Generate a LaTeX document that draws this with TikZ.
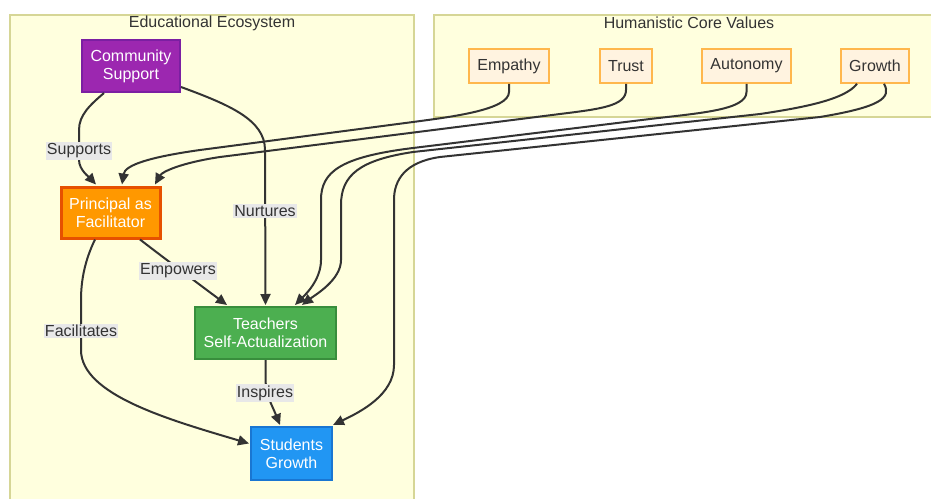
\documentclass[tikz,border=0pt]{standalone}
\usepackage{fontspec}
\setmainfont{Liberation Sans}
\usetikzlibrary{arrows.meta,calc}
\definecolor{clfill}{HTML}{FFFFDE}
\definecolor{clline}{RGB}{214,214,150}
\definecolor{ink}{HTML}{333333}
\definecolor{lblbg}{HTML}{E8E8E8}
\definecolor{purf}{HTML}{9C27B0}\definecolor{purd}{HTML}{7B1FA2}
\definecolor{orf}{HTML}{FF9800}\definecolor{ord}{HTML}{E65100}
\definecolor{grf}{HTML}{4CAF50}\definecolor{grd}{HTML}{388E3C}
\definecolor{blf}{HTML}{2196F3}\definecolor{bld}{HTML}{1976D2}
\definecolor{valf}{HTML}{FFF3E0}\definecolor{vald}{HTML}{FFB74D}
\tikzset{
  cluster/.style={fill=clfill,draw=clline,line width=1.5pt},
  ctitle/.style={text=ink,font=\fontsize{16}{18}\selectfont},
  mainbox/.style={align=center,inner sep=0pt,text=white,font=\fontsize{16}{18}\selectfont,line width=2pt},
  valbox/.style={align=center,inner sep=0pt,text=ink,fill=valf,draw=vald,line width=1.5pt,minimum height=34pt,font=\fontsize{16}{18}\selectfont},
  lbl/.style={fill=lblbg,text=ink,inner xsep=1pt,inner ysep=1.5pt,font=\fontsize{16}{18}\selectfont},
  edge/.style={draw=ink,line width=2pt,-{Triangle[length=11pt,width=10pt]}},
}
\begin{document}
\begin{tikzpicture}[x=1pt,y=-1pt]
\useasboundingbox (0,0) rectangle (931,498);
% clusters
\draw[cluster] (10,15) rectangle (414,505);
\draw[cluster] (434,15) rectangle (940,117);
\node[ctitle] (t1) at (212,23) {Educational Ecosystem};
\node[ctitle] (t2) at (689,23) {Humanistic Core Values};
% main nodes
\node[mainbox,fill=purf,draw=purd,minimum width=98pt,minimum height=52pt] (comm) at (131,66) {Community\\Support};
\node[mainbox,fill=orf,draw=ord,line width=3pt,minimum width=99pt,minimum height=51pt] (prin) at (110.5,212.5) {Principal as\\Facilitator};
\node[mainbox,fill=grf,draw=grd,minimum width=141pt,minimum height=52pt] (teach) at (265.5,333) {Teachers\\Self-Actualization};
\node[mainbox,fill=blf,draw=bld,minimum width=81pt,minimum height=53pt] (stud) at (291.5,453.5) {Students\\Growth};
% values
\node[valbox,minimum width=80pt] (emp) at (509,66) {Empathy};
\node[valbox,minimum width=52pt] (trust) at (626,66) {Trust};
\node[valbox,minimum width=89pt] (auto) at (746.5,66) {Autonomy};
\node[valbox,minimum width=68pt] (grow) at (875,66) {Growth};
% edges inside
\draw[edge] ($(comm.south)+(-27,0)$) .. controls (90,105) and (79,115) .. (79,130) -- (79,160) .. controls (79,170) and (90,178) .. ($(prin.north)+(-14.5,-1)$);
\node[lbl] (l1) at (79,151) {Supports};
\draw[edge] ($(comm.south east)+(0,-6)$) .. controls (230,105) and (265,120) .. (265,150) -- ($(teach.north)+(0,-1)$);
\node[lbl] (l2) at (265,211) {Nurtures};
\draw[edge] ($(prin.south)+(29.5,0)$) .. controls (160,255) and (200,285) .. ($(teach.north)+(-38.5,-1)$);
\node[lbl] (l3) at (178,271) {Empowers};
\draw[edge] ($(prin.south)+(-15.5,0)$) .. controls (85,260) and (81,280) .. (81,300) -- (81,350) .. controls (81,395) and (170,420) .. ($(stud.west)+(-1,-10)$);
\node[lbl] (l4) at (81,331) {Facilitates};
\draw[edge] (teach.south) -- (265.5,378) .. controls (265.5,395) and (272,405) .. ($(stud.north)+(-11.5,-1)$);
\node[lbl] (l5) at (265,393) {Inspires};
% edges from values
\draw[edge] (emp.south) -- (509,92) .. controls (509,110) and (450,117) .. (413,122) -- (200,150) .. controls (150,157) and (125,165) .. ($(prin.north)+(11.5,-1)$);
\draw[edge] (trust.south) -- (626,90) .. controls (626,106) and (600,109) .. (560,114) -- (220,157) .. controls (180,163) and (162,172) .. ($(prin.north)+(44.5,-1)$);
\draw[edge] (auto.south) -- (746.5,92) .. controls (746.5,110) and (700,113) .. (650,119) -- (413,148) .. controls (340,157) and (321,172) .. (321,200) -- (321,260) .. controls (321,280) and (305,295) .. ($(teach.north)+(29.5,-1)$);
\draw[edge] ($(grow.south)+(-18,0)$) .. controls (845,100) and (800,108) .. (760,114) -- (413,152) .. controls (360,160) and (341,175) .. (341,205) -- (341,260) .. controls (341,280) and (315,295) .. ($(teach.north)+(36.5,-1)$);
\draw[edge] ($(grow.south)+(9,0)$) .. controls (892,98) and (880,107) .. (820,117) -- (440,157) .. controls (405,162) and (394,180) .. (394,200) -- (394,365) .. controls (394,395) and (360,412) .. ($(stud.north east)+(0,-1)$);
\end{tikzpicture}
\end{document}
